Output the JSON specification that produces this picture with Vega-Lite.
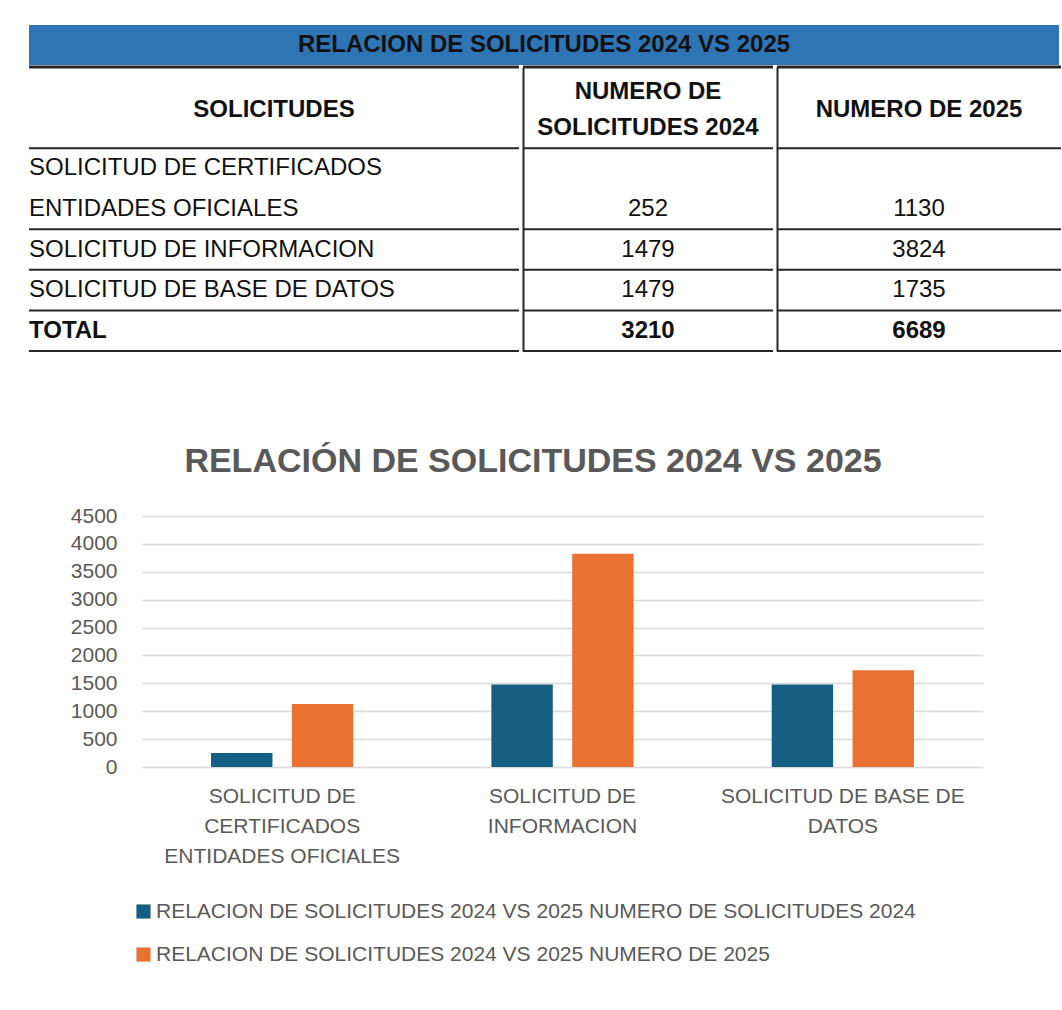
{
  "$schema": "https://vega.github.io/schema/vega-lite/v6.json",
  "padding": {"left": 27, "top": 25, "right": 0, "bottom": 0},
  "background": "white",
  "config": {"view": {"stroke": null}, "font": "Liberation Sans"},
  "datasets": {
    "titulo": [{"titulo": "RELACION DE SOLICITUDES 2024 VS 2025"}],
    "solicitudes": [
      {"solicitud": "SOLICITUD DE CERTIFICADOS ENTIDADES OFICIALES", "serie": "RELACION DE SOLICITUDES 2024 VS 2025 NUMERO DE SOLICITUDES 2024", "valor": 252},
      {"solicitud": "SOLICITUD DE CERTIFICADOS ENTIDADES OFICIALES", "serie": "RELACION DE SOLICITUDES 2024 VS 2025 NUMERO DE 2025", "valor": 1130},
      {"solicitud": "SOLICITUD DE INFORMACION", "serie": "RELACION DE SOLICITUDES 2024 VS 2025 NUMERO DE SOLICITUDES 2024", "valor": 1479},
      {"solicitud": "SOLICITUD DE INFORMACION", "serie": "RELACION DE SOLICITUDES 2024 VS 2025 NUMERO DE 2025", "valor": 3824},
      {"solicitud": "SOLICITUD DE BASE DE DATOS", "serie": "RELACION DE SOLICITUDES 2024 VS 2025 NUMERO DE SOLICITUDES 2024", "valor": 1479},
      {"solicitud": "SOLICITUD DE BASE DE DATOS", "serie": "RELACION DE SOLICITUDES 2024 VS 2025 NUMERO DE 2025", "valor": 1735}
    ],
    "tabla": [
      {"columna": "solicitudes", "linea": 0, "tipo": "encabezado", "texto": "SOLICITUDES"},
      {"columna": "2024", "linea": 0, "tipo": "encabezado", "texto": "NUMERO DE\nSOLICITUDES 2024"},
      {"columna": "2025", "linea": 0, "tipo": "encabezado", "texto": "NUMERO DE 2025"},
      {"columna": "solicitudes", "linea": 2, "tipo": "dato", "texto": "SOLICITUD DE CERTIFICADOS"},
      {"columna": "solicitudes", "linea": 3, "tipo": "dato", "texto": "ENTIDADES OFICIALES"},
      {"columna": "2024", "linea": 3, "tipo": "dato", "texto": "252"},
      {"columna": "2025", "linea": 3, "tipo": "dato", "texto": "1130"},
      {"columna": "solicitudes", "linea": 4, "tipo": "dato", "texto": "SOLICITUD DE INFORMACION"},
      {"columna": "2024", "linea": 4, "tipo": "dato", "texto": "1479"},
      {"columna": "2025", "linea": 4, "tipo": "dato", "texto": "3824"},
      {"columna": "solicitudes", "linea": 5, "tipo": "dato", "texto": "SOLICITUD DE BASE DE DATOS"},
      {"columna": "2024", "linea": 5, "tipo": "dato", "texto": "1479"},
      {"columna": "2025", "linea": 5, "tipo": "dato", "texto": "1735"},
      {"columna": "solicitudes", "linea": 6, "tipo": "total", "texto": "TOTAL"},
      {"columna": "2024", "linea": 6, "tipo": "total", "texto": "3210"},
      {"columna": "2025", "linea": 6, "tipo": "total", "texto": "6689"}
    ],
    "bordes": [
      {"linea": 0, "borde": "superior"},
      {"linea": 2, "borde": "superior"},
      {"linea": 4, "borde": "superior"},
      {"linea": 5, "borde": "superior"},
      {"linea": 6, "borde": "superior"},
      {"linea": 6, "borde": "inferior"}
    ]
  },
  "vconcat": [
    {
      "spacing": 0,
      "resolve": {"scale": {"x": "independent", "y": "independent"}},
      "vconcat": [
        {
          "width": 1030,
          "height": 40,
          "view": {"fill": "#2e75b6", "stroke": null},
          "data": {"name": "titulo"},
          "mark": {"type": "text", "fontSize": 24, "fontWeight": "bold", "color": "#111111", "align": "center", "baseline": "middle"},
          "encoding": {"text": {"field": "titulo"}}
        },
        {
          "spacing": 0,
          "resolve": {"scale": {"x": "independent", "y": "independent"}},
          "hconcat": [
            {
              "width": 490,
              "height": 284,
              "layer": [
                {
                  "data": {"name": "bordes"},
                  "transform": [{"filter": "datum.borde == 'superior'"}],
                  "mark": {"type": "rule", "color": "#262626"},
                  "encoding": {
                    "y": {"field": "linea", "type": "ordinal", "bandPosition": 0, "scale": {"type": "band", "domain": [0, 1, 2, 3, 4, 5, 6], "paddingInner": 0, "paddingOuter": 0}, "axis": null},
                    "strokeWidth": {"condition": {"test": "datum.linea == 0", "value": 3}, "value": 2}
                  }
                },
                {
                  "data": {"name": "bordes"},
                  "transform": [{"filter": "datum.borde == 'inferior'"}],
                  "mark": {"type": "rule", "color": "#262626", "strokeWidth": 2},
                  "encoding": {
                    "y": {"field": "linea", "type": "ordinal", "bandPosition": 1, "scale": {"type": "band", "domain": [0, 1, 2, 3, 4, 5, 6], "paddingInner": 0, "paddingOuter": 0}, "axis": null}
                  }
                },
                {
                  "data": {"name": "tabla"},
                  "transform": [{"filter": "datum.columna == 'solicitudes' && datum.tipo == 'encabezado'"}],
                  "mark": {"type": "text", "fontSize": 24, "fontWeight": "bold", "color": "#111111", "align": "center", "baseline": "middle", "dy": 2},
                  "encoding": {
                    "y": {"field": "linea", "type": "ordinal", "bandPosition": 1, "scale": {"type": "band", "domain": [0, 1, 2, 3, 4, 5, 6], "paddingInner": 0, "paddingOuter": 0}, "axis": null},
                    "text": {"field": "texto"}
                  }
                },
                {
                  "data": {"name": "tabla"},
                  "transform": [{"filter": "datum.columna == 'solicitudes' && datum.tipo == 'dato'"}],
                  "mark": {"type": "text", "fontSize": 24, "color": "#111111", "align": "left", "baseline": "middle"},
                  "encoding": {
                    "x": {"field": "columna", "type": "nominal", "bandPosition": 0, "scale": {"type": "band", "paddingInner": 0, "paddingOuter": 0}, "axis": null},
                    "y": {"field": "linea", "type": "ordinal", "bandPosition": 0.5, "scale": {"type": "band", "domain": [0, 1, 2, 3, 4, 5, 6], "paddingInner": 0, "paddingOuter": 0}, "axis": null},
                    "text": {"field": "texto"}
                  }
                },
                {
                  "data": {"name": "tabla"},
                  "transform": [{"filter": "datum.columna == 'solicitudes' && datum.tipo == 'total'"}],
                  "mark": {"type": "text", "fontSize": 24, "fontWeight": "bold", "color": "#111111", "align": "left", "baseline": "middle"},
                  "encoding": {
                    "x": {"field": "columna", "type": "nominal", "bandPosition": 0, "scale": {"type": "band", "paddingInner": 0, "paddingOuter": 0}, "axis": null},
                    "y": {"field": "linea", "type": "ordinal", "bandPosition": 0.5, "scale": {"type": "band", "domain": [0, 1, 2, 3, 4, 5, 6], "paddingInner": 0, "paddingOuter": 0}, "axis": null},
                    "text": {"field": "texto"}
                  }
                }
              ]
            },
            {
              "width": 250,
              "height": 284,
              "layer": [
                {
                  "data": {"name": "bordes"},
                  "transform": [{"filter": "datum.borde == 'superior'"}],
                  "mark": {"type": "rule", "color": "#262626"},
                  "encoding": {
                    "y": {"field": "linea", "type": "ordinal", "bandPosition": 0, "scale": {"type": "band", "domain": [0, 1, 2, 3, 4, 5, 6], "paddingInner": 0, "paddingOuter": 0}, "axis": {"domain": true, "domainColor": "#262626", "domainWidth": 2, "labels": false, "ticks": false, "grid": false, "title": null}},
                    "strokeWidth": {"condition": {"test": "datum.linea == 0", "value": 3}, "value": 2}
                  }
                },
                {
                  "data": {"name": "bordes"},
                  "transform": [{"filter": "datum.borde == 'inferior'"}],
                  "mark": {"type": "rule", "color": "#262626", "strokeWidth": 2},
                  "encoding": {
                    "y": {"field": "linea", "type": "ordinal", "bandPosition": 1, "scale": {"type": "band", "domain": [0, 1, 2, 3, 4, 5, 6], "paddingInner": 0, "paddingOuter": 0}, "axis": {"domain": true, "domainColor": "#262626", "domainWidth": 2, "labels": false, "ticks": false, "grid": false, "title": null}}
                  }
                },
                {
                  "data": {"name": "tabla"},
                  "transform": [{"filter": "datum.columna == '2024' && datum.tipo == 'encabezado'"}],
                  "mark": {"type": "text", "fontSize": 24, "fontWeight": "bold", "color": "#111111", "align": "center", "baseline": "middle", "lineBreak": "\n", "lineHeight": 36, "dy": -16},
                  "encoding": {
                    "y": {"field": "linea", "type": "ordinal", "bandPosition": 1, "scale": {"type": "band", "domain": [0, 1, 2, 3, 4, 5, 6], "paddingInner": 0, "paddingOuter": 0}, "axis": {"domain": true, "domainColor": "#262626", "domainWidth": 2, "labels": false, "ticks": false, "grid": false, "title": null}},
                    "text": {"field": "texto"}
                  }
                },
                {
                  "data": {"name": "tabla"},
                  "transform": [{"filter": "datum.columna == '2024' && datum.tipo == 'dato'"}],
                  "mark": {"type": "text", "fontSize": 24, "color": "#111111", "align": "center", "baseline": "middle"},
                  "encoding": {
                    "y": {"field": "linea", "type": "ordinal", "bandPosition": 0.5, "scale": {"type": "band", "domain": [0, 1, 2, 3, 4, 5, 6], "paddingInner": 0, "paddingOuter": 0}, "axis": {"domain": true, "domainColor": "#262626", "domainWidth": 2, "labels": false, "ticks": false, "grid": false, "title": null}},
                    "text": {"field": "texto"}
                  }
                },
                {
                  "data": {"name": "tabla"},
                  "transform": [{"filter": "datum.columna == '2024' && datum.tipo == 'total'"}],
                  "mark": {"type": "text", "fontSize": 24, "fontWeight": "bold", "color": "#111111", "align": "center", "baseline": "middle"},
                  "encoding": {
                    "y": {"field": "linea", "type": "ordinal", "bandPosition": 0.5, "scale": {"type": "band", "domain": [0, 1, 2, 3, 4, 5, 6], "paddingInner": 0, "paddingOuter": 0}, "axis": {"domain": true, "domainColor": "#262626", "domainWidth": 2, "labels": false, "ticks": false, "grid": false, "title": null}},
                    "text": {"field": "texto"}
                  }
                }
              ]
            },
            {
              "width": 284,
              "height": 284,
              "layer": [
                {
                  "data": {"name": "bordes"},
                  "transform": [{"filter": "datum.borde == 'superior'"}],
                  "mark": {"type": "rule", "color": "#262626"},
                  "encoding": {
                    "y": {"field": "linea", "type": "ordinal", "bandPosition": 0, "scale": {"type": "band", "domain": [0, 1, 2, 3, 4, 5, 6], "paddingInner": 0, "paddingOuter": 0}, "axis": {"domain": true, "domainColor": "#262626", "domainWidth": 2, "labels": false, "ticks": false, "grid": false, "title": null}},
                    "strokeWidth": {"condition": {"test": "datum.linea == 0", "value": 3}, "value": 2}
                  }
                },
                {
                  "data": {"name": "bordes"},
                  "transform": [{"filter": "datum.borde == 'inferior'"}],
                  "mark": {"type": "rule", "color": "#262626", "strokeWidth": 2},
                  "encoding": {
                    "y": {"field": "linea", "type": "ordinal", "bandPosition": 1, "scale": {"type": "band", "domain": [0, 1, 2, 3, 4, 5, 6], "paddingInner": 0, "paddingOuter": 0}, "axis": {"domain": true, "domainColor": "#262626", "domainWidth": 2, "labels": false, "ticks": false, "grid": false, "title": null}}
                  }
                },
                {
                  "data": {"name": "tabla"},
                  "transform": [{"filter": "datum.columna == '2025' && datum.tipo == 'encabezado'"}],
                  "mark": {"type": "text", "fontSize": 24, "fontWeight": "bold", "color": "#111111", "align": "center", "baseline": "middle", "dy": 2},
                  "encoding": {
                    "y": {"field": "linea", "type": "ordinal", "bandPosition": 1, "scale": {"type": "band", "domain": [0, 1, 2, 3, 4, 5, 6], "paddingInner": 0, "paddingOuter": 0}, "axis": {"domain": true, "domainColor": "#262626", "domainWidth": 2, "labels": false, "ticks": false, "grid": false, "title": null}},
                    "text": {"field": "texto"}
                  }
                },
                {
                  "data": {"name": "tabla"},
                  "transform": [{"filter": "datum.columna == '2025' && datum.tipo == 'dato'"}],
                  "mark": {"type": "text", "fontSize": 24, "color": "#111111", "align": "center", "baseline": "middle"},
                  "encoding": {
                    "y": {"field": "linea", "type": "ordinal", "bandPosition": 0.5, "scale": {"type": "band", "domain": [0, 1, 2, 3, 4, 5, 6], "paddingInner": 0, "paddingOuter": 0}, "axis": {"domain": true, "domainColor": "#262626", "domainWidth": 2, "labels": false, "ticks": false, "grid": false, "title": null}},
                    "text": {"field": "texto"}
                  }
                },
                {
                  "data": {"name": "tabla"},
                  "transform": [{"filter": "datum.columna == '2025' && datum.tipo == 'total'"}],
                  "mark": {"type": "text", "fontSize": 24, "fontWeight": "bold", "color": "#111111", "align": "center", "baseline": "middle"},
                  "encoding": {
                    "y": {"field": "linea", "type": "ordinal", "bandPosition": 0.5, "scale": {"type": "band", "domain": [0, 1, 2, 3, 4, 5, 6], "paddingInner": 0, "paddingOuter": 0}, "axis": {"domain": true, "domainColor": "#262626", "domainWidth": 2, "labels": false, "ticks": false, "grid": false, "title": null}},
                    "text": {"field": "texto"}
                  }
                }
              ]
            }
          ]
        }
      ]
    },
    {
      "width": 954,
      "height": 251,
      "data": {"name": "solicitudes"},
      "title": {"text": "RELACIÓN DE SOLICITUDES 2024 VS 2025", "fontSize": 34, "fontWeight": "bold", "color": "#595959", "offset": 26, "anchor": "middle", "frame": "group", "dx": 27},
      "mark": {"type": "bar"},
      "encoding": {
        "x": {
          "field": "solicitud", "type": "nominal",
          "sort": ["SOLICITUD DE CERTIFICADOS ENTIDADES OFICIALES", "SOLICITUD DE INFORMACION", "SOLICITUD DE BASE DE DATOS"],
          "scale": {"paddingInner": 0, "paddingOuter": 0, "rangeMin": 113},
          "axis": {
            "title": null, "labelAngle": 0, "domain": false, "ticks": false,
            "labelFontSize": 21, "labelColor": "#595959", "labelPadding": 18, "labelLineHeight": 30, "labelLimit": 0,
            "labelExpr": "datum.value == 'SOLICITUD DE CERTIFICADOS ENTIDADES OFICIALES' ? ['SOLICITUD DE', 'CERTIFICADOS', 'ENTIDADES OFICIALES'] : datum.value == 'SOLICITUD DE INFORMACION' ? ['SOLICITUD DE', 'INFORMACION'] : ['SOLICITUD DE BASE DE', 'DATOS']"
          }
        },
        "xOffset": {
          "field": "serie", "type": "nominal",
          "sort": ["RELACION DE SOLICITUDES 2024 VS 2025 NUMERO DE SOLICITUDES 2024", "RELACION DE SOLICITUDES 2024 VS 2025 NUMERO DE 2025"],
          "scale": {"paddingInner": 0.24, "paddingOuter": 0.854}
        },
        "y": {
          "field": "valor", "type": "quantitative",
          "scale": {"domain": [0, 4500], "nice": false},
          "axis": {
            "values": [0, 500, 1000, 1500, 2000, 2500, 3000, 3500, 4000, 4500],
            "format": "d",
            "title": null, "offset": -113,
            "domain": false, "ticks": false,
            "labelFontSize": 21, "labelColor": "#595959", "labelPadding": 25,
            "gridColor": "#d9d9d9", "gridWidth": 1.5
          }
        },
        "color": {
          "field": "serie", "type": "nominal",
          "scale": {"domain": ["RELACION DE SOLICITUDES 2024 VS 2025 NUMERO DE SOLICITUDES 2024", "RELACION DE SOLICITUDES 2024 VS 2025 NUMERO DE 2025"], "range": ["#156082", "#e97132"]},
          "legend": {
            "title": null, "orient": "none", "legendX": 104, "legendY": 385, "direction": "vertical",
            "symbolType": "square", "symbolSize": 200, "symbolStrokeWidth": 0,
            "labelFontSize": 21, "labelColor": "#595959", "labelLimit": 0, "labelOffset": 2,
            "rowPadding": 21
          }
        }
      }
    }
  ],
  "spacing": 93,
  "resolve": {"scale": {"x": "independent", "y": "independent", "color": "independent"}}
}
